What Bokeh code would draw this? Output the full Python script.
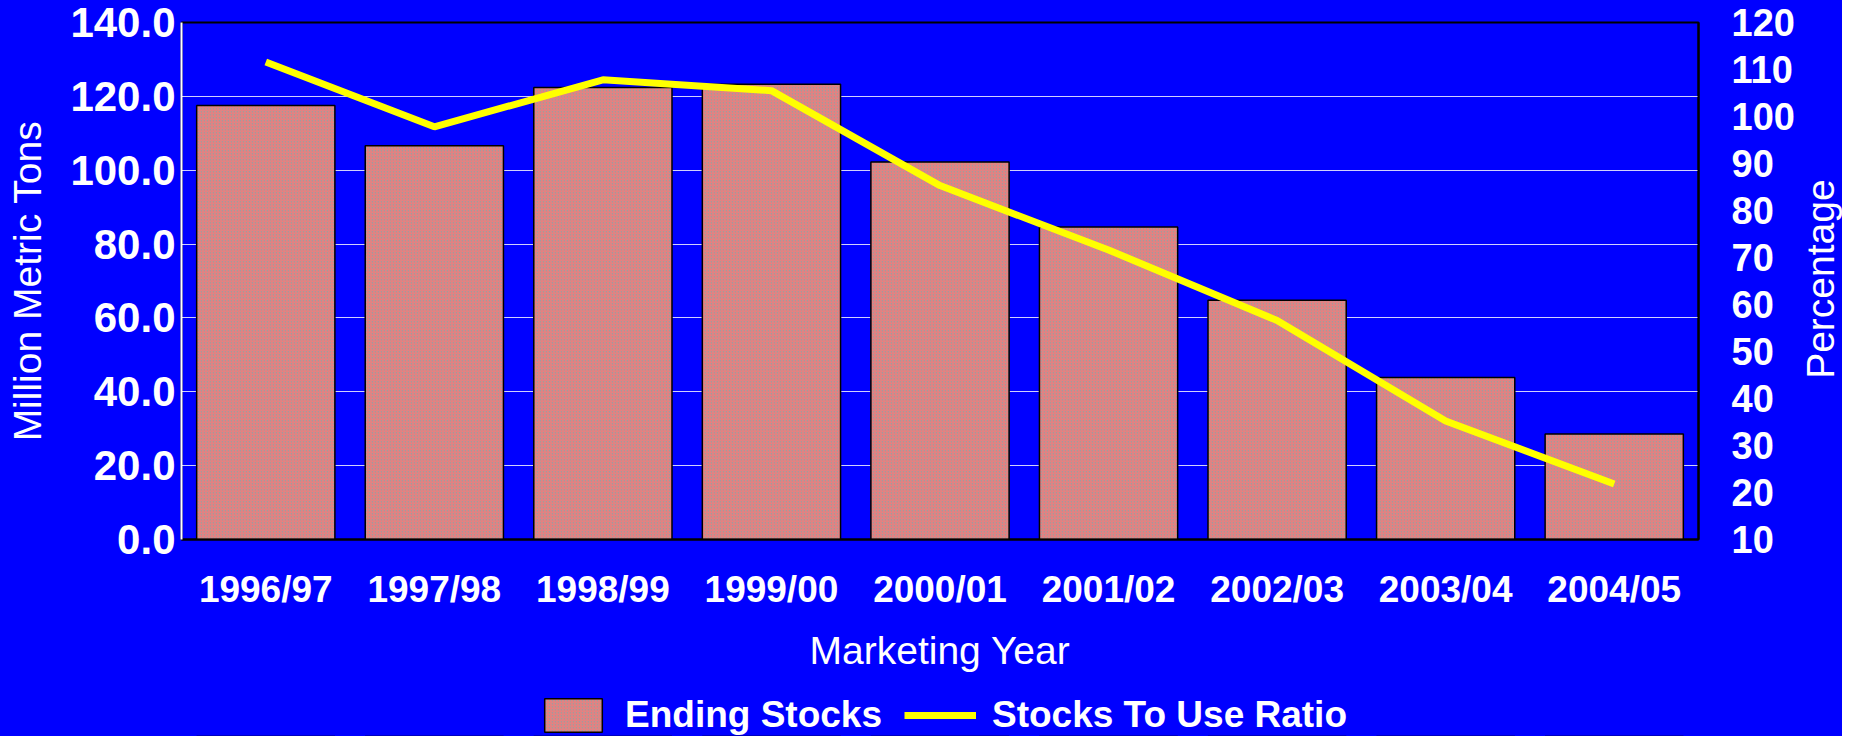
import math
from bokeh.plotting import figure
from bokeh.layouts import column, row
from bokeh.models import (ColumnDataSource, Range1d, LinearAxis, FixedTicker,
                          NumeralTickFormatter, Legend, LegendItem, FactorRange, Label)
from bokeh.embed import file_html
from bokeh.resources import INLINE

years = ["1996/97", "1997/98", "1998/99", "1999/00", "2000/01",
         "2001/02", "2002/03", "2003/04", "2004/05"]
ending_stocks = [117.5, 106.6, 122.4, 123.3, 102.2, 84.6, 64.8, 43.9, 28.6]
stocks_to_use = [111.6, 97.8, 107.8, 105.5, 85.3, 71.6, 56.6, 35.2, 21.8]
left_ticks = [0, 20, 40, 60, 80, 100, 120, 140]
right_ticks = [10, 20, 30, 40, 50, 60, 70, 80, 90, 100, 110, 120]
right_title_pos = 65.4

src = ColumnDataSource(dict(year=years, stocks=ending_stocks, ratio=stocks_to_use))

FONT = "Liberation Sans"
BLUE = "#0000ff"
BG_STYLE = {"background-color": BLUE}
BAR_STYLE = dict(fill_color="#a09c9c", hatch_pattern="right_diagonal_line",
                 hatch_color="#f07c7c", hatch_scale=3, hatch_weight=1.05,
                 line_color="black", line_width=1.5)
LINE_STYLE = dict(line_color="#ffff00", line_width=7)

p = figure(x_range=FactorRange(*years), y_range=Range1d(0, 140),
           width=1798, height=689, output_backend="svg", toolbar_location=None,
           min_border_left=181, min_border_right=100, min_border_top=22,
           min_border_bottom=150)
p.styles = BG_STYLE
p.background_fill_color = BLUE
p.border_fill_color = BLUE
p.outline_line_color = "black"
p.outline_line_width = 2
p.extra_y_ranges = {"pct": Range1d(10, 120)}

p.vbar(x="year", top="stocks", width=0.82, source=src, **BAR_STYLE)
p.line(x="year", y="ratio", source=src, y_range_name="pct", **LINE_STYLE)

# grid
p.xgrid.grid_line_color = None
p.ygrid.grid_line_color = "#d0d0ff"
p.ygrid.grid_line_width = 1.2
p.ygrid.ticker = FixedTicker(ticks=left_ticks)

def style_axis(ax, size):
    ax.major_label_text_color = "white"
    ax.major_label_text_font = FONT
    ax.major_label_text_font_style = "bold"
    ax.major_label_text_font_size = size
    ax.axis_label_text_color = "white"
    ax.axis_label_text_font = FONT
    ax.axis_label_text_font_style = "normal"
    ax.axis_label_text_font_size = "39px"
    ax.major_tick_line_color = None
    ax.minor_tick_line_color = None
    ax.major_tick_out = 0
    ax.major_tick_in = 0
    ax.minor_tick_out = 0
    ax.minor_tick_in = 0

# x axis
xa = p.xaxis[0]
style_axis(xa, "37px")
xa.axis_label = "Marketing Year"
xa.axis_line_color = "black"
xa.axis_line_width = 2
xa.major_label_standoff = 29
xa.axis_label_standoff = 16

# left axis
ya = p.yaxis[0]
style_axis(ya, "42px")
ya.axis_label = "Million Metric Tons"
ya.ticker = FixedTicker(ticks=left_ticks)
ya.formatter = NumeralTickFormatter(format="0.0")
ya.axis_line_color = "white"
ya.axis_line_width = 2
ya.major_label_standoff = 6
ya.axis_label_standoff = 18

# right axis
ra = LinearAxis(y_range_name="pct")
style_axis(ra, "38px")
ra.ticker = FixedTicker(ticks=right_ticks)
ra.formatter = NumeralTickFormatter(format="0")
ra.axis_line_color = "black"
ra.axis_line_width = 2
ra.major_label_standoff = 33
p.add_layout(ra, "right")

# narrow strip on the right holding the right axis title (reads bottom to top)
side = figure(width=44, height=689, output_backend="svg", toolbar_location=None,
              x_range=Range1d(0, 1), y_range=Range1d(10, 120),
              x_axis_location=None, y_axis_location=None,
              min_border_left=0, min_border_right=0, min_border_top=22,
              min_border_bottom=150)
side.styles = BG_STYLE
side.grid.visible = False
side.background_fill_color = BLUE
side.border_fill_color = BLUE
side.outline_line_color = None
side.add_layout(Label(x=0.5, y=right_title_pos, text="Percentage", angle=math.pi / 2,
                      text_align="center", text_baseline="middle", text_color="white",
                      text_font=FONT, text_font_size="39px"))

# legend strip below the chart (keys reuse the data, kept off-screen)
lg = figure(width=1842, height=47, output_backend="svg", toolbar_location=None,
            x_range=FactorRange(*years), y_range=Range1d(1000, 1001),
            x_axis_location=None, y_axis_location=None,
            min_border_left=181, min_border_right=144, min_border_top=0,
            min_border_bottom=0)
lg.styles = BG_STYLE
lg.grid.visible = False
lg.background_fill_color = BLUE
lg.border_fill_color = BLUE
lg.outline_line_color = None
bar_key = lg.vbar(x="year", top="stocks", width=0.82, source=src, **BAR_STYLE)
line_key = lg.line(x="year", y="ratio", source=src, **LINE_STYLE)

legend = Legend(items=[LegendItem(label="Ending Stocks", renderers=[bar_key]),
                       LegendItem(label="Stocks To Use Ratio", renderers=[line_key])],
                orientation="horizontal", location=(356, 0),
                background_fill_alpha=0, border_line_color=None,
                label_text_color="white", label_text_font=FONT,
                label_text_font_style="bold", label_text_font_size="37px",
                glyph_width=72, glyph_height=42, label_standoff=16, spacing=22,
                padding=0, margin=0)
lg.add_layout(legend, "center")

top_row = row(p, side, spacing=0)
top_row.styles = BG_STYLE
layout = column(top_row, lg, spacing=0)
layout.styles = BG_STYLE
open("out.html", "w").write(file_html(layout, INLINE))
